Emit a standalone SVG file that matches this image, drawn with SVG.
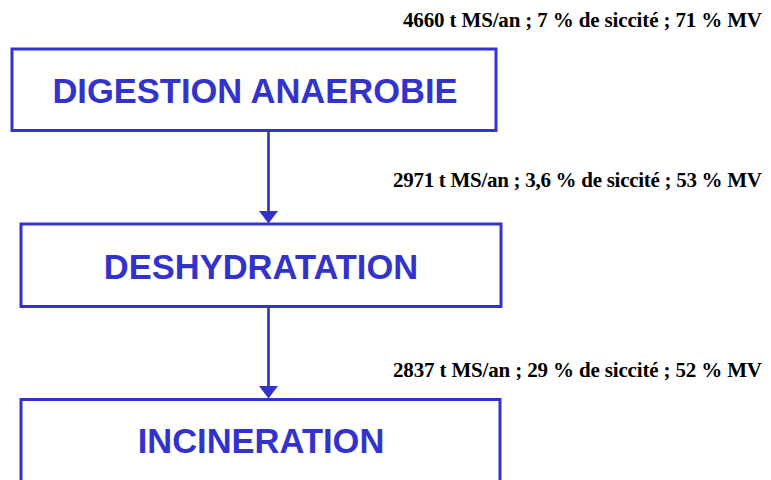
<svg xmlns="http://www.w3.org/2000/svg" width="771" height="480" viewBox="0 0 771 480">
  <style>
    .box { fill: #ffffff; stroke: #3333cc; stroke-width: 3; }
    .title { font-family: "Liberation Sans", Arial, sans-serif; font-weight: bold; font-size: 34.5px; fill: #3333cc; text-anchor: middle; }
    .label { font-family: "Liberation Serif", "Times New Roman", serif; font-weight: bold; font-size: 21px; fill: #000000; text-anchor: end; }
    .conn { stroke: #3333cc; stroke-width: 2.7; fill: none; }
  </style>
  <defs>
    <marker id="arrow" markerUnits="userSpaceOnUse" markerWidth="12.5" markerHeight="19" refX="1" refY="9.5" orient="auto" viewBox="0 0 12.5 19">
      <path d="M0,0 L12.5,9.5 L0,19 z" fill="#3333cc"/>
    </marker>
  </defs>
  <rect width="771" height="480" fill="#ffffff"/>

  <g id="connectors">
    <line class="conn" x1="268.5" y1="131" x2="268.5" y2="212" marker-end="url(#arrow)"/>
    <line class="conn" x1="268.5" y1="307.5" x2="268.5" y2="387" marker-end="url(#arrow)"/>
  </g>

  <g id="label1">
    <text class="label" x="762" y="27" textLength="359" lengthAdjust="spacing">4660 t MS/an ; 7 % de siccité ; 71 % MV</text>
  </g>
  <g id="label2">
    <text class="label" x="762" y="187" textLength="369" lengthAdjust="spacing">2971 t MS/an ; 3,6 % de siccité ; 53 % MV</text>
  </g>
  <g id="label3">
    <text class="label" x="762" y="377" textLength="369" lengthAdjust="spacing">2837 t MS/an ; 29 % de siccité ; 52 % MV</text>
  </g>

  <g id="node-digestion">
    <rect class="box" x="12" y="49" width="484" height="81.5"/>
    <text class="title" x="255" y="103">DIGESTION ANAEROBIE</text>
  </g>
  <g id="node-deshydratation">
    <rect class="box" x="21" y="224" width="480" height="82.5"/>
    <text class="title" x="261" y="279">DESHYDRATATION</text>
  </g>
  <g id="node-incineration">
    <rect class="box" x="21" y="399.5" width="479" height="200"/>
    <text class="title" x="261" y="453">INCINERATION</text>
  </g>
</svg>
